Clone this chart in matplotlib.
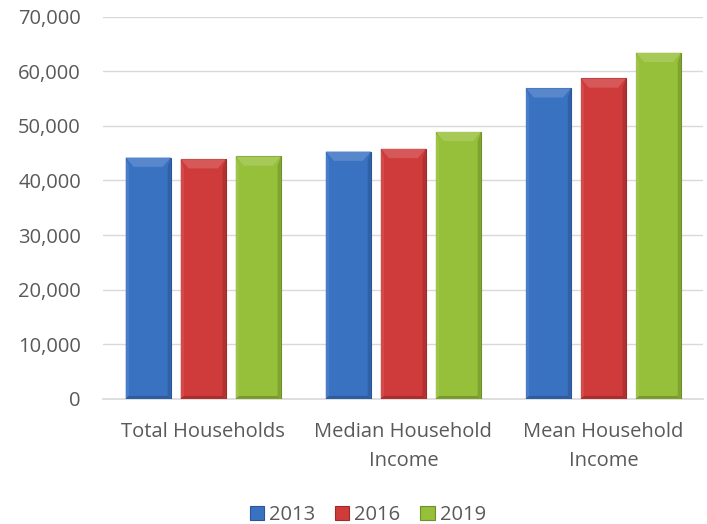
import matplotlib
matplotlib.use('Agg')
import matplotlib.pyplot as plt
import numpy as np
from matplotlib.ticker import FuncFormatter
from matplotlib.patches import Polygon
from matplotlib.colors import to_rgb

# Data
categories = ["Total Households", "Median Household\nIncome", "Mean Household\nIncome"]
years = ["2013", "2016", "2019"]
v2013 = [44200, 45300, 56900]
v2016 = [43900, 45800, 58700]
v2019 = [44400, 48900, 63400]

colors = ['#3a72c2', '#cf3a3a', '#96bf3a']
edges = ['#2a5596', '#a02a2a', '#6f8f28']

plt.rcParams['font.family'] = ['Open Sans', 'DejaVu Sans']
text_color = '#595959'


def shade(c, f):
    r = np.array(to_rgb(c))
    if f > 0:
        return tuple(r + (1 - r) * f)
    return tuple(r * (1 + f))


fig = plt.figure(figsize=(7.07, 5.24), dpi=100)
ax = fig.add_axes([0.146, 0.239, 0.849, 0.729])

x = np.arange(len(categories))
width = 0.225
step = 0.275
for i, (vals, c, e, lab) in enumerate(zip([v2013, v2016, v2019], colors, edges, years)):
    bars = ax.bar(x + (i - 1) * step, vals, width, color=c, edgecolor=e, linewidth=0.8,
                  label=lab, zorder=3)
    # simple bevel look on each bar
    for b in bars:
        x0, x1 = b.get_x(), b.get_x() + b.get_width()
        top = b.get_height()
        bx, by = 0.04, 1700
        ax.add_patch(Polygon([(x0, top), (x1, top), (x1 - bx, top - by), (x0 + bx, top - by)],
                             closed=True, fc=shade(c, 0.15), ec='none', zorder=4))
        ax.add_patch(Polygon([(x0, 0), (x0 + bx * 0.4, by * 0.3), (x0 + bx * 0.4, top - by), (x0, top)],
                             closed=True, fc=shade(c, 0.08), ec='none', zorder=4))
        ax.add_patch(Polygon([(x1, 0), (x1 - bx * 0.4, by * 0.3), (x1 - bx * 0.4, top - by), (x1, top)],
                             closed=True, fc=shade(c, -0.15), ec='none', zorder=4))
        ax.add_patch(Polygon([(x0, 0), (x1, 0), (x1 - bx * 0.4, by * 0.3), (x0 + bx * 0.4, by * 0.3)],
                             closed=True, fc=shade(c, -0.2), ec='none', zorder=4))

ax.set_ylim(0, 70000)
ax.set_xlim(-0.5, 2.5)
ax.set_yticks(np.arange(0, 70001, 10000))
ax.yaxis.set_major_formatter(FuncFormatter(lambda v, p: f'{v:,.0f}'))
ax.set_xticks(x)
ax.set_xticklabels(categories, fontsize=14.5, color=text_color, linespacing=1.55)
ax.tick_params(axis='y', labelsize=14.5, colors=text_color, length=0, pad=16)
ax.tick_params(axis='x', length=0, pad=17)
ax.grid(True, axis='y', color='#d9d9d9', linewidth=1, zorder=0)
for s in ['top', 'right', 'left']:
    ax.spines[s].set_visible(False)
ax.spines['bottom'].set_color('#d9d9d9')
ax.spines['bottom'].set_linewidth(1.2)

fig.legend(loc='lower center', bbox_to_anchor=(0.52, -0.037), ncol=3, frameon=False,
           fontsize=14.5, labelcolor=text_color, handlelength=0.7, handleheight=0.7,
           handletextpad=0.25, columnspacing=1.0)

plt.savefig('out.png', dpi=100)
